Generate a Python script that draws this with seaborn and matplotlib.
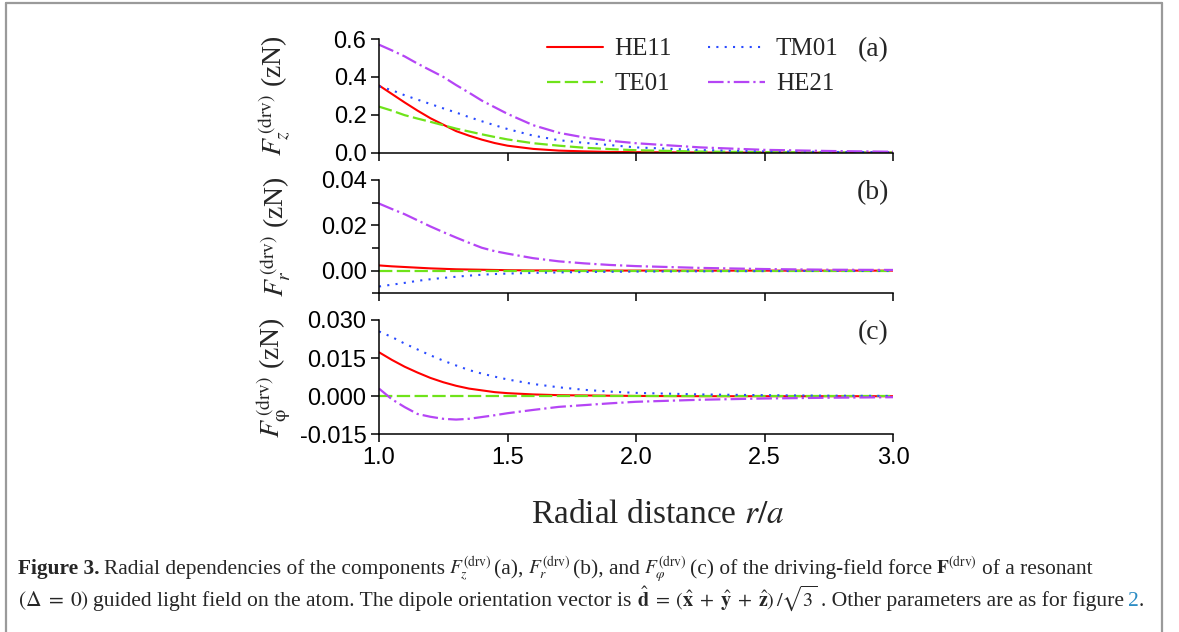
import numpy as np
import pandas as pd
import matplotlib
matplotlib.use("Agg")
import matplotlib.pyplot as plt
import seaborn as sns
from matplotlib.lines import Line2D
from matplotlib.ticker import MultipleLocator, FormatStrFormatter

# ---------------- data ----------------
r_over_a = [1.0, 1.05, 1.1, 1.15, 1.2, 1.25, 1.3, 1.35, 1.4, 1.45, 1.5,
            1.6, 1.7, 1.8, 1.9, 2.0, 2.25, 2.5, 2.75, 3.0]
modes = ["HE11", "TE01", "TM01", "HE21"]

# panel (a): F_z (zN)
fz_he11 = [0.355, 0.31, 0.265, 0.222, 0.182, 0.148, 0.114, 0.09, 0.069, 0.051, 0.037,
           0.02, 0.011, 0.007, 0.004, 0.003, 0.001, 0.0005, 0.0002, 0.0001]
fz_te01 = [0.243, 0.222, 0.198, 0.18, 0.163, 0.145, 0.127, 0.112, 0.097, 0.083, 0.07,
           0.05, 0.037, 0.026, 0.019, 0.013, 0.006, 0.003, 0.0015, 0.0008]
fz_tm01 = [0.35, 0.33, 0.303, 0.28, 0.257, 0.234, 0.212, 0.188, 0.166, 0.145, 0.125,
           0.09, 0.066, 0.052, 0.04, 0.028, 0.014, 0.007, 0.004, 0.002]
fz_he21 = [0.57, 0.54, 0.508, 0.47, 0.435, 0.40, 0.357, 0.317, 0.275, 0.24, 0.205,
           0.145, 0.105, 0.08, 0.063, 0.05, 0.028, 0.015, 0.009, 0.005]

# panel (b): F_r (zN)
fr_he11 = [0.0023, 0.0019, 0.0016, 0.0013, 0.0010, 0.0008, 0.0006, 0.0005, 0.0004, 0.0003, 0.0002,
           0.0001, 0.0001, 0.00005, 0.00003, 0.00002, 0.0, 0.0, 0.0, 0.0]
fr_te01 = [0.0] * 20
fr_tm01 = [-0.0070, -0.0062, -0.0054, -0.0045, -0.0038, -0.0032, -0.0027, -0.0022, -0.0018, -0.0015, -0.0013,
           -0.0010, -0.0008, -0.0006, -0.0005, -0.0004, -0.0003, -0.0002, -0.0001, -0.0001]
fr_he21 = [0.0296, 0.0272, 0.0249, 0.0222, 0.0195, 0.0170, 0.0146, 0.0123, 0.0101, 0.0086, 0.0075,
           0.0055, 0.0041, 0.0032, 0.0025, 0.0020, 0.0012, 0.0007, 0.0004, 0.0003]

# panel (c): F_phi (zN)
fp_he11 = [0.0173, 0.0143, 0.0116, 0.0093, 0.0072, 0.0055, 0.0041, 0.0030, 0.0023, 0.0016, 0.0012,
           0.0007, 0.0004, 0.0003, 0.0002, 0.0001, 0.0, 0.0, 0.0, 0.0]
fp_te01 = [0.0] * 20
fp_tm01 = [0.0255, 0.0233, 0.0207, 0.0184, 0.0161, 0.0140, 0.0121, 0.0103, 0.0089, 0.0077, 0.0066,
           0.0048, 0.0035, 0.0025, 0.0018, 0.0013, 0.0007, 0.0004, 0.0002, 0.0001]
fp_he21 = [0.0030, -0.0012, -0.0043, -0.0070, -0.0081, -0.0089, -0.0092, -0.0089, -0.0082, -0.0075, -0.0067,
           -0.0054, -0.0042, -0.0035, -0.0028, -0.0022, -0.0014, -0.0009, -0.0006, -0.0004]

x_ticks = [1.0, 1.5, 2.0, 2.5, 3.0]
panel_tags = ["(a)", "(b)", "(c)"]

# ---------------- styling ----------------
sns.set_style("ticks")
plt.rcParams["font.family"] = ["Liberation Sans", "DejaVu Sans"]
plt.rcParams["mathtext.fontset"] = "stix"
plt.rcParams["axes.unicode_minus"] = False

colors = {"HE11": "#ff0000", "TE01": "#6fe31a", "TM01": "#2a4bff", "HE21": "#b545f5"}
styles = {"HE11": dict(linestyle="-", linewidth=1.5),
          "TE01": dict(linestyle=(0, (6, 2)), linewidth=1.6),
          "TM01": dict(linestyle=(0, (1, 3)), linewidth=1.5),
          "HE21": dict(linestyle=(0, (7, 1.8, 1, 1.8)), linewidth=1.6)}

W, H = 1179, 632
fig = plt.figure(figsize=(W / 100, H / 100), dpi=100)
fig.patch.set_facecolor("white")

L, R = 379 / W, 893 / W
boxes = [(39, 152.7), (180, 293.3), (320, 434.3)]
axes = [fig.add_axes([L, 1 - b / H, R - L, (b - t) / H]) for t, b in boxes]

panels = [
    {"HE11": fz_he11, "TE01": fz_te01, "TM01": fz_tm01, "HE21": fz_he21},
    {"HE11": fr_he11, "TE01": fr_te01, "TM01": fr_tm01, "HE21": fr_he21},
    {"HE11": fp_he11, "TE01": fp_te01, "TM01": fp_tm01, "HE21": fp_he21},
]
ylims = [(0, 0.6), (-0.01, 0.04), (-0.015, 0.030)]
ymajor = [0.2, 0.02, 0.015]
yfmt = ["%.1f", "%.2f", "%.3f"]
ylabels = [r"$F_z^{\,(\mathrm{drv})}$ (zN)",
           r"$F_r^{\,(\mathrm{drv})}$ (zN)",
           r"$F_{\mathrm{φ}}^{\,(\mathrm{drv})}$ (zN)"]

for i, ax in enumerate(axes):
    df = pd.DataFrame({"r": r_over_a, **panels[i]})
    long = df.melt(id_vars="r", var_name="mode", value_name="F")
    for m in modes:
        sub = long[long["mode"] == m]
        sns.lineplot(data=sub, x="r", y="F", ax=ax, color=colors[m],
                     legend=False, **styles[m])
    ax.set_xlim(1.0, 3.0)
    ax.set_ylim(*ylims[i])
    ax.set_xticks(x_ticks)
    ax.yaxis.set_major_locator(MultipleLocator(ymajor[i]))
    ax.yaxis.set_major_formatter(FormatStrFormatter(yfmt[i]))
    if i == 1:
        ax.yaxis.set_minor_locator(MultipleLocator(0.01))
    for s in ["top", "right"]:
        ax.spines[s].set_visible(False)
    for s in ["left", "bottom"]:
        ax.spines[s].set_linewidth(1.1)
        ax.spines[s].set_color("black")
    ax.tick_params(axis="both", which="major", direction="out", length=6, width=1.1,
                   labelsize=17, colors="black", pad=3)
    ax.tick_params(axis="y", which="minor", direction="out", length=5, width=1.1, color="black")
    if i < 2:
        ax.tick_params(axis="x", labelbottom=False)
    ax.set_xlabel("")
    ax.set_ylabel(ylabels[i], fontsize=20, family="Liberation Serif")
    ax.yaxis.set_label_coords(-0.168, 0.5)
    ax.text(0.961, [0.906, 0.885, 0.886][i], panel_tags[i], transform=ax.transAxes,
            ha="center", va="center", fontsize=20, family="Liberation Serif")
    ax.set_facecolor("none")

leg = axes[0].legend(handles=[Line2D([], [], color=colors[m], **styles[m]) for m in modes],
                     labels=modes, ncol=2, loc="upper left", bbox_to_anchor=(0.327, 1.01),
                     frameon=False, prop={"family": "Liberation Serif", "size": 18},
                     handlelength=2.25, handletextpad=0.45, columnspacing=1.45,
                     labelspacing=0.5, borderpad=0, borderaxespad=0)

fig.text(658 / W, 1 - 515 / H, r"Radial distance $r/a$", ha="center", va="center",
         fontsize=24, family="Liberation Serif")

# frame around figure + caption
frame_kw = dict(color="#9a9a9a", linewidth=1.6, transform=fig.transFigure)
fig.add_artist(Line2D([6 / W, 6 / W], [1 - 3 / H, -0.1], **frame_kw))
fig.add_artist(Line2D([6 / W, 1162 / W], [1 - 3 / H, 1 - 3 / H], **frame_kw))
fig.add_artist(Line2D([1162 / W, 1162 / W], [1 - 3 / H, -0.1], **frame_kw))

renderer = fig.canvas.get_renderer()


def write_line(x_px, y_px, pieces, fs):
    for txt, kw, gap in pieces:
        base = dict(fontsize=fs, family="Liberation Serif", va="baseline", ha="left")
        base.update(kw)
        t = fig.text(x_px / W, 1 - y_px / H, txt, **base)
        bb = t.get_window_extent(renderer)
        x_px = bb.x1 + gap


line1 = [
    ("Figure 3.", dict(fontweight="bold"), 4),
    ("Radial dependencies of the components", {}, 4),
    (r"$F_z^{(\mathrm{drv})}$", dict(fontsize=14), 3),
    ("(a),", {}, 4),
    (r"$F_r^{(\mathrm{drv})}$", dict(fontsize=14), 3),
    ("(b), and", {}, 4),
    (r"$F_\varphi^{(\mathrm{drv})}$", dict(fontsize=14), 3),
    ("(c) of the driving-field force", {}, 4),
    (r"$\mathbf{F}^{(\mathrm{drv})}$", dict(fontsize=14), 5),
    ("of a resonant", {}, 0),
]
line2 = [
    (r"$(\Delta\;=\;0)$", dict(fontsize=15.5), 4),
    ("guided light field on the atom. The dipole orientation vector is", {}, 6),
    (r"$\hat{\mathbf{d}}\;=\;(\hat{\mathbf{x}}\;+\;\hat{\mathbf{y}}\;+\;\hat{\mathbf{z}})\,/\sqrt{3}$",
     dict(fontsize=14.5), 3),
    (". Other parameters are as for figure", {}, 4),
    ("2", dict(color="#2b8cc4"), 0),
    (".", {}, 0),
]
write_line(18, 574, line1, 15.4)
write_line(18, 606, line2, 15.6)

fig.savefig("out.png", dpi=100, facecolor="white")
